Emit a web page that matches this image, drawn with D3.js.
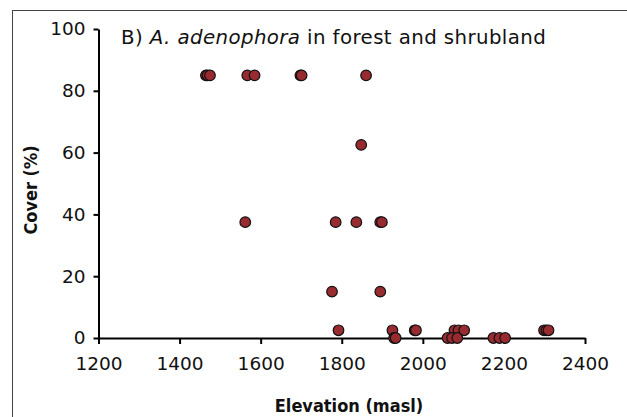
<!DOCTYPE html>
<html>
<head>
<meta charset="utf-8">
<script src="https://cdn.jsdelivr.net/npm/d3@7"></script>
<style>
  html, body { margin: 0; padding: 0; background: #fff; }
  svg { display: block; font-family: "DejaVu Sans", sans-serif; }
</style>
</head>
<body>
<svg id="chart" width="627" height="417"></svg>
<script>
// Plot records: elevation (masl) and cover (%) for A. adenophora
const elevation = [
  1465, 1469, 1475, 1567, 1585, 1698, 1701, 1860,
  1848,
  1562, 1785, 1836, 1895, 1899,
  1776, 1895,
  1792, 1925, 1980, 1983, 2078, 2088, 2102, 2299, 2305, 2310,
  1929, 1933, 2061, 2072, 2085, 2174, 2189, 2203
];
const cover = [
  85, 85, 85, 85, 85, 85, 85, 85,
  62.5,
  37.5, 37.5, 37.5, 37.5, 37.5,
  15, 15,
  2.5, 2.5, 2.5, 2.5, 2.5, 2.5, 2.5, 2.5, 2.5, 2.5,
  0, 0, 0, 0, 0, 0, 0, 0
];
const xTicks = [1200, 1400, 1600, 1800, 2000, 2200, 2400];
const yTicks = [0, 20, 40, 60, 80, 100];
const titlePrefix = "B) ";
const titleSpecies = "A. adenophora";
const titleSuffix = " in forest and shrubland";
const xLabel = "Elevation (masl)";
const yLabel = "Cover (%)";

const svg = d3.select("#chart");
const labelFont = '"Liberation Sans Narrow", "DejaVu Sans Condensed", sans-serif';

// outer panel frame (open on right and bottom)
svg.append("rect")
  .attr("x", 12.5).attr("y", 10.5)
  .attr("width", 640).attr("height", 420)
  .attr("fill", "none").attr("stroke", "#444").attr("stroke-width", 1);

const x = d3.scaleLinear().domain([1200, 2400]).range([98.5, 585]);
const y = d3.scaleLinear().domain([0, 100]).range([338, 29]);

const xAxis = svg.append("g")
  .attr("transform", `translate(0,${y(0)})`)
  .call(d3.axisBottom(x).tickValues(xTicks).tickSizeInner(6).tickSizeOuter(0).tickPadding(13)
    .tickFormat(d3.format("d")));
const yAxis = svg.append("g")
  .attr("transform", `translate(${x(1200)},0)`)
  .call(d3.axisLeft(y).tickValues(yTicks).tickSizeInner(5).tickSizeOuter(0).tickPadding(8)
    .tickFormat(d3.format("d")));

[xAxis, yAxis].forEach(g => {
  g.select(".domain").attr("stroke", "#000").attr("stroke-width", 2);
  g.selectAll(".tick line").attr("stroke", "#000").attr("stroke-width", 2);
  g.selectAll(".tick text").attr("fill", "#111")
    .style("font-family", '"DejaVu Sans", sans-serif').style("font-size", "18.5px");
});

// title
const title = svg.append("text")
  .attr("x", 121).attr("y", 44)
  .style("font-size", "19.8px").style("letter-spacing", "0.4px").attr("fill", "#111");
title.append("tspan").text(titlePrefix);
title.append("tspan").style("font-style", "italic").text(titleSpecies);
title.append("tspan").text(titleSuffix);

// axis titles
svg.append("text")
  .attr("x", 349).attr("y", 412)
  .attr("text-anchor", "middle")
  .style("font-family", labelFont)
  .style("font-size", "18px").style("font-weight", "bold").attr("fill", "#111")
  .text(xLabel);
svg.append("text")
  .attr("transform", "translate(37,190) rotate(-90)")
  .attr("text-anchor", "middle")
  .style("font-family", labelFont)
  .style("font-size", "18px").style("font-weight", "bold").attr("fill", "#111")
  .text(yLabel);

// points
svg.append("g").selectAll("circle")
  .data(elevation.map((e, i) => ({ e, c: cover[i] })))
  .join("circle")
  .attr("cx", d => x(d.e))
  .attr("cy", d => y(d.c))
  .attr("r", 5.3)
  .attr("fill", "#982b30")
  .attr("stroke", "#111")
  .attr("stroke-width", 1.2);
</script>
</body>
</html>
